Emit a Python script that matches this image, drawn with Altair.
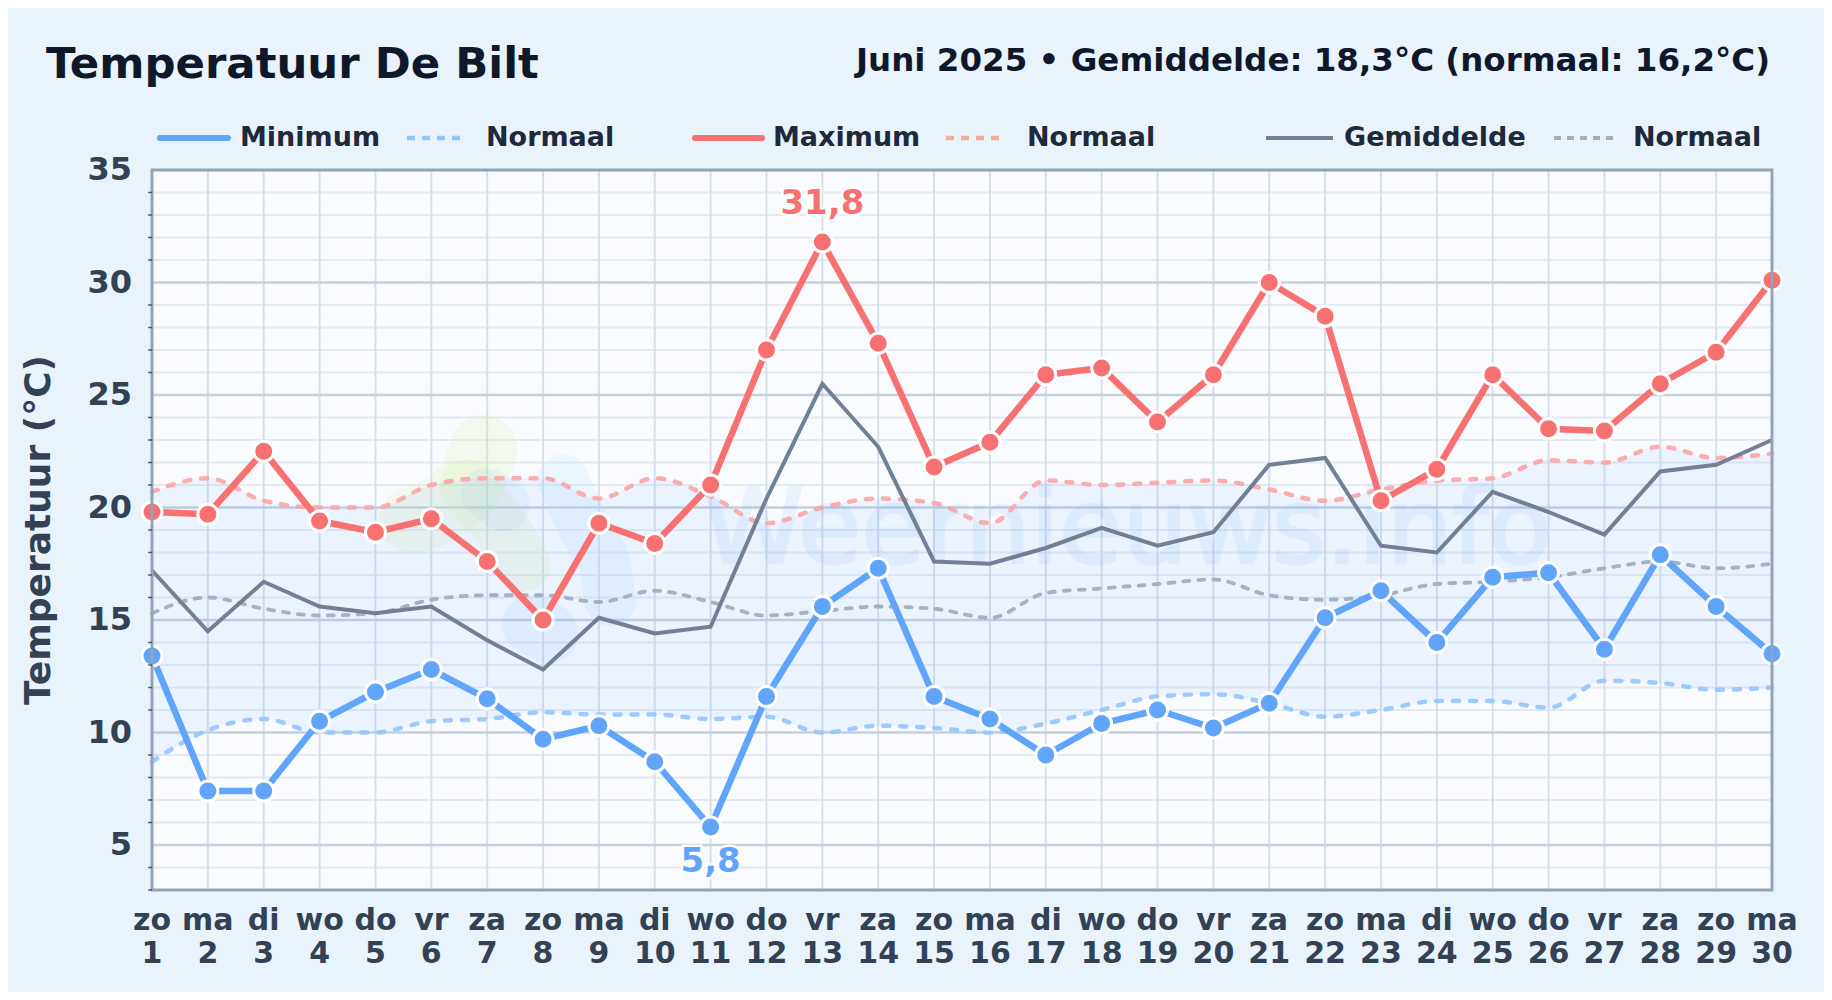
import altair as alt
import pandas as pd

weekdays = ["zo","ma","di","wo","do","vr","za"]
days = list(range(1, 31))
dow = [weekdays[i % 7] for i in range(30)]
t_max = [19.8,19.7,22.5,19.4,18.9,19.5,17.6,15.0,19.3,18.4,21.0,27.0,31.8,27.3,21.8,22.9,25.9,26.2,23.8,25.9,30.0,28.5,20.3,21.7,25.9,23.5,23.4,25.5,26.9,30.1]
t_min = [13.4,7.4,7.4,10.5,11.8,12.8,11.5,9.7,10.3,8.7,5.8,11.6,15.6,17.3,11.6,10.6,9.0,10.4,11.0,10.2,11.3,15.1,16.3,14.0,16.9,17.1,13.7,17.9,15.6,13.5]
t_avg = [17.2,14.5,16.7,15.6,15.3,15.6,14.1,12.8,15.1,14.4,14.7,20.4,25.5,22.7,17.6,17.5,18.2,19.1,18.3,18.9,21.9,22.2,18.3,18.0,20.7,19.8,18.8,21.6,21.9,23.0]
n_max = [20.7,21.3,20.3,20.0,20.0,21.0,21.3,21.3,20.4,21.3,20.5,19.3,20.0,20.4,20.2,19.3,21.2,21.0,21.1,21.2,20.8,20.3,20.8,21.2,21.3,22.1,22.0,22.7,22.2,22.4]
n_min = [8.7,10.1,10.6,10.0,10.0,10.5,10.6,10.9,10.8,10.8,10.6,10.7,10.0,10.3,10.2,10.0,10.4,11.0,11.6,11.7,11.3,10.7,11.0,11.4,11.4,11.1,12.3,12.2,11.9,12.0]
n_avg = [15.3,16.0,15.5,15.2,15.3,15.9,16.1,16.1,15.8,16.3,15.8,15.2,15.4,15.6,15.5,15.1,16.2,16.4,16.6,16.8,16.1,15.9,16.1,16.6,16.7,16.9,17.3,17.6,17.3,17.5]

# watermark logo blobs, in day / temperature units
blob_green_x = [6.93, 6.64, 5.67]
blob_green_y = [22.6, 20.91, 19.44]
blob_green2_x = [6.64, 7.10, 7.64]
blob_green2_y = [20.91, 19.58, 17.53]
blob_blue_x = [7.0, 7.3]
blob_blue_y = [20.6, 20.1]
blob_sky_x = [8.36, 8.79, 9.1, 9.2]
blob_sky_y = [21.22, 18.87, 17.5, 15.89]
blob_dark_x = [7.8, 8.1]
blob_dark_y = [14.8, 14.4]

df = pd.DataFrame(dict(d=days, dow=dow, tmax=t_max, tmin=t_min, tavg=t_avg, nmax=n_max, nmin=n_min, navg=n_avg))
FONT = "DejaVu Sans"
BG = "#e8f3fc"
BLUE, RED, GREY = "#60a5fa", "#f87171", "#718096"
xs = alt.Scale(domain=[1, 30], nice=False, zero=False)
ys = alt.Scale(domain=[3, 35], nice=False, zero=False)
X = alt.X("d:Q", scale=xs, axis=None)
W, H = 1620, 720

minor = list(range(3, 36))
major = [5, 10, 15, 20, 25, 30, 35]
minor_only = [v for v in minor if v not in major]

base = alt.Chart(df)

plot_bg = alt.Chart(pd.DataFrame({"a": [1]})).mark_rect(color="#f9fbff").encode(
    x=alt.value(0), x2=alt.value(W), y=alt.value(0), y2=alt.value(H))

def hrule(vals, color, w):
    return alt.Chart(pd.DataFrame({"v": vals})).mark_rule(color=color, strokeWidth=w).encode(
        y=alt.Y("v:Q", scale=ys, axis=None))

grid_minor = hrule(minor_only, "#e4eaf2", 2)
grid_major = hrule(major[:-1], "#c5cfde", 2.5)
grid_v = alt.Chart(pd.DataFrame({"d": days[1:]})).mark_rule(color="#d8dfea", strokeWidth=2).encode(x=X)

band = base.mark_area(interpolate="monotone", color=BLUE, opacity=0.085).encode(
    x=X, y=alt.Y("nmin:Q", scale=ys, axis=None), y2="nmax:Q")

def blob(xv, yv, color, w, op):
    return alt.Chart(pd.DataFrame({"x": xv, "y": yv})).mark_line(
        color=color, strokeWidth=w, opacity=op, strokeCap="round", strokeJoin="round", interpolate="monotone"
    ).encode(x=alt.X("x:Q", scale=xs, axis=None), y=alt.Y("y:Q", scale=ys, axis=None), order="y:Q")

blobs = [
    blob(blob_green_x, blob_green_y, "#d9f0a3", 68, 0.2),
    blob(blob_green2_x, blob_green2_y, "#d9f0a3", 56, 0.2),
    blob(blob_sky_x, blob_sky_y, "#bfe3ff", 52, 0.22),
    blob(blob_blue_x, blob_blue_y, "#60a5fa", 52, 0.08),
    blob(blob_dark_x, blob_dark_y, "#60a5fa", 60, 0.09),
]

def line(col, color, w, dash=None, op=1.0):
    kw = dict(interpolate="monotone", color=color, strokeWidth=w, opacity=op, clip=False, strokeCap="round")
    if dash:
        kw["strokeDash"] = dash
    return base.mark_line(**kw).encode(x=X, y=alt.Y(f"{col}:Q", scale=ys, axis=None))

def sline(col, color, w):
    return base.mark_line(color=color, strokeWidth=w).encode(x=X, y=alt.Y(f"{col}:Q", scale=ys, axis=None))

def pts(col, color):
    return base.mark_point(filled=True, fill=color, stroke="white", strokeWidth=3, size=400, opacity=1, clip=False).encode(
        x=X, y=alt.Y(f"{col}:Q", scale=ys, axis=None))

wm = alt.Chart(pd.DataFrame({"x": [18.45], "y": [18.9], "t": ["Weernieuws.info"]})).mark_text(
    font=FONT, fontSize=103, color="#3b82f6", stroke="#3b82f6", strokeWidth=3, opacity=0.07, align="center", baseline="middle"
).encode(x=alt.X("x:Q", scale=xs, axis=None), y=alt.Y("y:Q", scale=ys, axis=None), text="t:N")

peak = alt.Chart(pd.DataFrame({"x": [13], "y": [33.5], "t": ["31,8"]}))
low = alt.Chart(pd.DataFrame({"x": [11], "y": [4.25], "t": ["5,8"]}))
def peak_label(c, color):
    enc = dict(x=alt.X("x:Q", scale=xs, axis=None), y=alt.Y("y:Q", scale=ys, axis=None), text="t:N")
    halo = c.mark_text(font=FONT, fontWeight="bold", fontSize=34, color="white", stroke="white", strokeWidth=5, strokeOpacity=0.85, clip=False).encode(**enc)
    txt = c.mark_text(font=FONT, fontWeight="bold", fontSize=34, color=color, clip=False).encode(**enc)
    return halo + txt

frame = alt.Chart(pd.DataFrame({"a": [1]})).mark_rect(fill="transparent", stroke="#94a3b8", strokeWidth=3).encode(
    x=alt.value(0), x2=alt.value(W), y=alt.value(0), y2=alt.value(H))

ylab = alt.Chart(pd.DataFrame({"v": major})).mark_text(font=FONT, fontWeight="bold", fontSize=32, color="#334155", align="right", dx=-20, baseline="middle").encode(
    x=alt.value(0), y=alt.Y("v:Q", scale=ys, axis=None), text="v:Q")
yticks = alt.Chart(pd.DataFrame({"v": minor_only})).mark_tick(color="#1e293b", thickness=1.5, size=4, xOffset=-2).encode(
    x=alt.value(0), y=alt.Y("v:Q", scale=ys, axis=None))
xlab1 = base.mark_text(font=FONT, fontWeight="bold", fontSize=30, color="#334155", baseline="middle").encode(
    x=X, y=alt.value(H + 31), text="dow:N")
xlab2 = base.mark_text(font=FONT, fontWeight="bold", fontSize=30, color="#334155", baseline="middle").encode(
    x=X, y=alt.value(H + 64), text="d:Q")

def label(txt, x, y, size, color, align="left", angle=0):
    kw = dict(font=FONT, fontWeight="bold", fontSize=size, color=color, align=align, baseline="middle")
    if angle:
        kw["angle"] = angle
    return alt.Chart(pd.DataFrame({"t": [txt]})).mark_text(**kw).encode(x=alt.value(x), y=alt.value(y), text="t:N")

PAGE_L, PAGE_T = 152, 170   # plot corner on the page
def lx(px): return px - PAGE_L
def ly(py): return py - PAGE_T

title = label("Temperatuur De Bilt", lx(46), ly(65), 43.4, "#0f172a")
sub = label("Juni 2025 • Gemiddelde: 18,3°C (normaal: 16,2°C)", lx(1770), ly(61), 32.5, "#0f172a", align="right")
ytitle = label("Temperatuur (°C)", lx(39), ly(530), 36, "#334155", align="center", angle=270)

legend_items = [
    ("Minimum", 160, 228, BLUE, 6, None, 240),
    ("Normaal", 407, 465, "#93c5fd", 4.5, [8, 7], 486),
    ("Maximum", 695, 762, RED, 6, None, 773),
    ("Normaal", 946, 1004, "#fca5a5", 4.5, [8, 7], 1027),
    ("Gemiddelde", 1266, 1333, GREY, 4, None, 1344),
    ("Normaal", 1554, 1619, "#a0aec0", 4, [7, 6], 1633),
]
leg = []
for name, a, b, col, w, dash, tx in legend_items:
    kw = dict(color=col, strokeWidth=w, strokeCap="round" if (not dash and w > 4) else "butt")
    if dash:
        kw["strokeDash"] = dash
    leg.append(alt.Chart(pd.DataFrame({"a": [1]})).mark_rule(**kw).encode(
        x=alt.value(lx(a)), x2=alt.value(lx(b)), y=alt.value(ly(138))))
    leg.append(label(name, lx(tx), ly(138), 27, "#1e293b"))

layers = [plot_bg, grid_minor, grid_v, grid_major, wm] + blobs + [band,
          line("nmax", "#fca5a5", 4.5, [6, 11], 0.9), line("nmin", "#93c5fd", 4.5, [6, 11], 0.9), line("navg", "#a0aec0", 3.8, [6, 9], 0.95),
          sline("tavg", GREY, 4), sline("tmin", BLUE, 6.5), sline("tmax", RED, 6.5),
          pts("tmin", BLUE), pts("tmax", RED),
          frame, yticks, ylab, xlab1, xlab2, title, sub, ytitle, peak_label(peak, RED), peak_label(low, BLUE)] + leg

L, T = PAGE_L - 8, PAGE_T - 8
chart = alt.layer(*layers).properties(
    width=W, height=H, background=BG,
    padding={"left": L, "top": T, "right": 1816 - L - W, "bottom": 984 - T - H},
    autosize=alt.AutoSizeParams(type="none"),
).configure_view(strokeWidth=0)

chart.save("out.html", embed_options={"renderer": "svg", "actions": False})
